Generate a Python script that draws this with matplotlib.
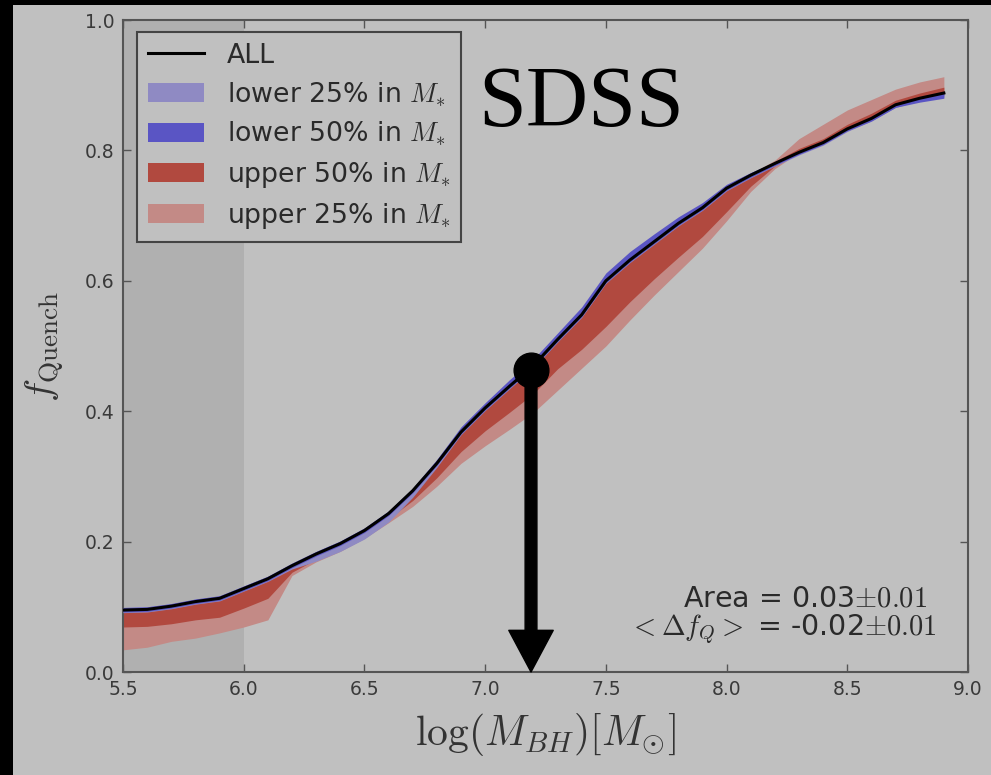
import matplotlib
matplotlib.use("Agg")
from matplotlib import pyplot as plt
from matplotlib.patches import Rectangle
import numpy

plt.rcParams['mathtext.fontset'] = 'cm'
plt.rcParams['font.family'] = ['DejaVu Sans']

# black-hole mass grid, log(M_BH)
log_mbh = [5.5, 5.6, 5.7, 5.8, 5.9, 6.0, 6.1, 6.2, 6.3, 6.4, 6.5, 6.6,
           6.7, 6.8, 6.9, 7.0, 7.1, 7.2, 7.3, 7.4, 7.5, 7.6, 7.7, 7.8,
           7.9, 8.0, 8.1, 8.2, 8.3, 8.4, 8.5, 8.6, 8.7, 8.8, 8.9]

# quenched fraction, whole sample
f_all = [0.095, 0.096, 0.101, 0.108, 0.113, 0.128, 0.143, 0.163, 0.181, 0.197, 0.217, 0.243,
         0.278, 0.320, 0.368, 0.405, 0.438, 0.470, 0.510, 0.548, 0.600, 0.632, 0.660, 0.688,
         0.712, 0.742, 0.762, 0.780, 0.797, 0.812, 0.833, 0.849, 0.870, 0.880, 0.888]

# lower 25% in M*
low25_lo = [0.091, 0.092, 0.097, 0.104, 0.109, 0.124, 0.139, 0.158, 0.170, 0.185, 0.204, 0.230,
            0.268, 0.314, 0.364, 0.401, 0.434, 0.466, 0.506, 0.544, 0.596, 0.628, 0.656, 0.684,
            0.708, 0.738, 0.758, 0.776, 0.793, 0.808, 0.829, 0.845, 0.866, 0.876, 0.882]
low25_hi = [0.099, 0.100, 0.105, 0.112, 0.117, 0.132, 0.147, 0.167, 0.185, 0.201, 0.221, 0.247,
            0.282, 0.326, 0.375, 0.412, 0.446, 0.478, 0.518, 0.558, 0.610, 0.643, 0.670, 0.696,
            0.718, 0.747, 0.766, 0.782, 0.798, 0.813, 0.834, 0.850, 0.871, 0.881, 0.889]

# lower 50% in M*
low50_lo = [0.092, 0.093, 0.098, 0.105, 0.110, 0.125, 0.140, 0.160, 0.178, 0.194, 0.214, 0.240,
            0.275, 0.317, 0.365, 0.402, 0.435, 0.467, 0.507, 0.545, 0.597, 0.629, 0.657, 0.685,
            0.709, 0.739, 0.759, 0.777, 0.794, 0.809, 0.830, 0.845, 0.866, 0.874, 0.880]
low50_hi = [0.099, 0.100, 0.105, 0.112, 0.117, 0.132, 0.147, 0.167, 0.185, 0.201, 0.221, 0.247,
            0.282, 0.326, 0.376, 0.413, 0.448, 0.480, 0.520, 0.560, 0.612, 0.645, 0.672, 0.698,
            0.720, 0.748, 0.766, 0.782, 0.798, 0.813, 0.834, 0.850, 0.871, 0.881, 0.889]

# upper 50% in M*
up50_lo = [0.069, 0.070, 0.074, 0.080, 0.084, 0.098, 0.113, 0.153, 0.173, 0.191, 0.211, 0.235,
           0.263, 0.298, 0.338, 0.370, 0.398, 0.427, 0.465, 0.495, 0.530, 0.568, 0.603, 0.636,
           0.668, 0.706, 0.745, 0.776, 0.795, 0.810, 0.830, 0.846, 0.867, 0.877, 0.885]
up50_hi = [0.095, 0.096, 0.101, 0.108, 0.113, 0.128, 0.143, 0.163, 0.181, 0.197, 0.217, 0.243,
           0.278, 0.320, 0.368, 0.405, 0.438, 0.470, 0.510, 0.548, 0.600, 0.632, 0.660, 0.688,
           0.712, 0.742, 0.764, 0.783, 0.803, 0.818, 0.840, 0.857, 0.877, 0.888, 0.897]

# upper 25% in M*
up25_lo = [0.034, 0.038, 0.047, 0.052, 0.060, 0.069, 0.080, 0.148, 0.169, 0.185, 0.205, 0.229,
           0.254, 0.285, 0.320, 0.347, 0.372, 0.398, 0.432, 0.466, 0.500, 0.540, 0.578, 0.614,
           0.650, 0.692, 0.737, 0.772, 0.797, 0.812, 0.833, 0.849, 0.870, 0.880, 0.888]
up25_hi = [0.095, 0.096, 0.101, 0.108, 0.113, 0.128, 0.143, 0.163, 0.181, 0.197, 0.217, 0.243,
           0.278, 0.320, 0.368, 0.405, 0.438, 0.470, 0.510, 0.548, 0.600, 0.632, 0.660, 0.688,
           0.712, 0.742, 0.764, 0.785, 0.818, 0.840, 0.862, 0.878, 0.894, 0.905, 0.913]

band_labels = [r'lower 25% in $M_{*}$', r'lower 50% in $M_{*}$',
               r'upper 50% in $M_{*}$', r'upper 25% in $M_{*}$']

# marked point and the arrow dropped from it
mark_x = 7.19
mark_y = 0.463

area_text = r'Area = 0.03$\pm0.01$'
dfq_text = r'$<\Delta f_Q>$ = -0.02$\pm0.01$'

bg = '#c0c0c0'
c_low25 = '#8f8ac3'
c_low50 = '#5a55c4'
c_up50 = '#b1493f'
c_up25 = '#c38a86'

fig = plt.figure(figsize=(9.91, 7.75), dpi=100, facecolor=bg)
# black strips at the top and left edge of the screenshot
fig.patches.append(Rectangle((0, 1 - 5 / 775), 1, 5 / 775, transform=fig.transFigure,
                             facecolor='black', edgecolor='none', zorder=-10))
fig.patches.append(Rectangle((0, 0), 13 / 991, 1, transform=fig.transFigure,
                             facecolor='black', edgecolor='none', zorder=-10))

ax = fig.add_axes([123 / 991, 103 / 775, 845 / 991, 652 / 775])
ax.set_facecolor(bg)
ax.axvspan(5.5, 6.0, color='#b0b0b0', zorder=0, lw=0)

ax.fill_between(log_mbh, up25_lo, up25_hi, color=c_up25, lw=0, zorder=1, label=band_labels[3])
ax.fill_between(log_mbh, up50_lo, up50_hi, color=c_up50, lw=0, zorder=2, label=band_labels[2])
ax.fill_between(log_mbh, low25_lo, low25_hi, color=c_low25, lw=0, zorder=3, label=band_labels[0])
ax.fill_between(log_mbh, low50_lo, low50_hi, color=c_low50, lw=0, zorder=4, label=band_labels[1])
ax.plot(log_mbh, f_all, color='black', lw=2.2, zorder=5, label='ALL')

ax.annotate('', xy=(mark_x, 0.0), xytext=(mark_x, mark_y),
            arrowprops=dict(facecolor='black', edgecolor='black', width=8.5,
                            headwidth=32, headlength=30, shrink=0),
            zorder=6)
ax.plot([mark_x], [mark_y], 'o', ms=25, color='black', zorder=7)

ax.set_xlim(5.5, 9.0)
ax.set_ylim(0.0, 1.0)
ax.set_xticks(numpy.arange(5.5, 9.01, 0.5))
ax.set_yticks(numpy.arange(0.0, 1.01, 0.2))
ax.tick_params(direction='in', top=True, right=True, length=6, width=1,
               color='#555555', labelsize=13.5, labelcolor='#3a3a3a', pad=6)
for s in ax.spines.values():
    s.set_color('#555555')
    s.set_linewidth(1.5)

ax.set_xlabel(r'$\log(M_{BH})[M_{\odot}]$', fontsize=30, color='#333333')
ax.set_ylabel(r'$f_{\rm Quench}$', fontsize=28, color='#333333')
ax.xaxis.set_label_coords(0.5, -0.06)
ax.yaxis.set_label_coords(-0.068, 0.5)

ax.text(6.97, 0.838, 'SDSS', fontsize=62, family='Liberation Serif',
        ha='left', va='baseline', color='black', zorder=8)
ax.text(8.83, 0.112, area_text, fontsize=20.5, ha='right', va='center', color='#2a2a2a')
ax.text(8.87, 0.066, dfq_text, fontsize=20.5, ha='right', va='center', color='#2a2a2a')

handles, labels = ax.get_legend_handles_labels()
order = ['ALL'] + band_labels
h_by_l = dict(zip(labels, handles))
leg = ax.legend([h_by_l[k] for k in order], order, loc='upper left',
                bbox_to_anchor=(14 / 845, 1 - 12 / 652), borderaxespad=0,
                fontsize=19.3, frameon=True, fancybox=False, framealpha=1,
                facecolor=bg, edgecolor='#444444', handlelength=2.1,
                handleheight=0.7, handletextpad=0.85, labelspacing=0.42,
                borderpad=0.4)
leg.get_frame().set_linewidth(1.5)
for t in leg.get_texts():
    t.set_color('#2a2a2a')
leg.set_zorder(9)

fig.savefig('out.png', dpi=100, facecolor=bg)
